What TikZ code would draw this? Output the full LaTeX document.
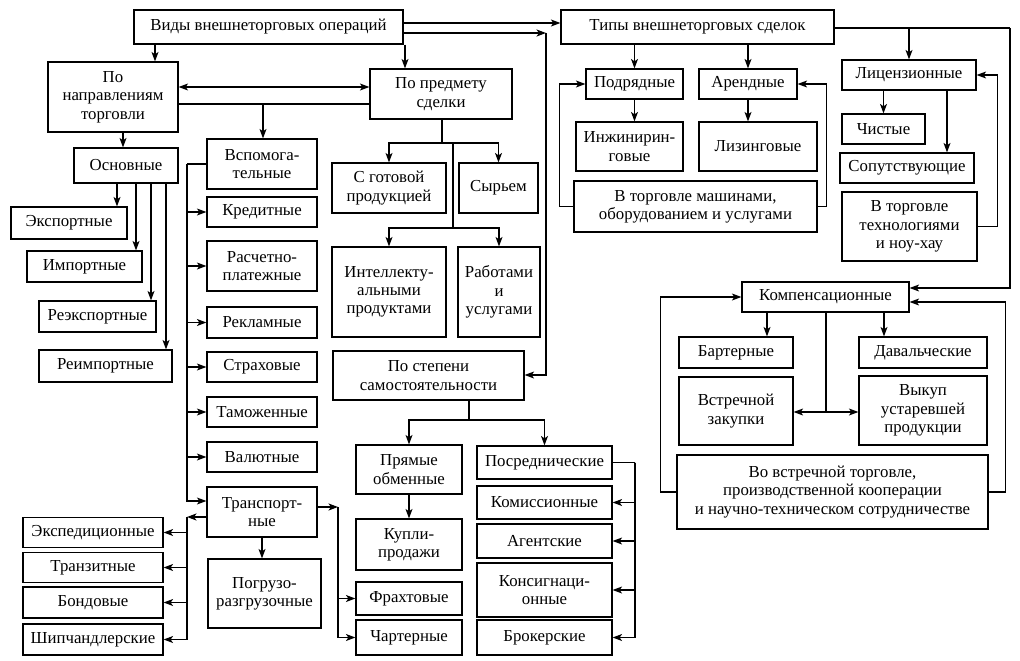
\documentclass[tikz,border=0pt]{standalone}
\usepackage{fontspec}
\setmainfont{Liberation Serif}
\usepackage{tikz}
\usetikzlibrary{arrows.meta}

\begin{document}
\begin{tikzpicture}[x=1pt, y=-1pt]
	\tikzset{box/.style = {draw, line width=1.2pt, align=center, inner sep=1pt,
			font=\fontsize{16.8}{18.3}\selectfont}}
	\tikzset{edge/.style = {->, line width=1.2pt, > = {Stealth[length=9.5pt, width=7pt, inset=2.5pt]}}}
	\tikzset{bus/.style = {line width=1.2pt}}
	\useasboundingbox (0,0) rectangle (1020,661);
	% boxes: top
	\node[box, minimum width=269, minimum height=34] (vid) at (268.5,27) {Виды внешнеторговых операций};
	\node[box, minimum width=273, minimum height=34] (tip) at (697.5,27) {Типы внешнеторговых сделок};
	% boxes: left part
	\node[box, minimum width=130, minimum height=70] (napr) at (113,97) {По\\направлениям\\торговли};
	\node[box, minimum width=142, minimum height=50] (pred) at (441,94) {По предмету\\сделки};
	\node[box, minimum width=104, minimum height=35] (osn) at (126,165.5) {Основные};
	\node[box, minimum width=110, minimum height=50] (vspom) at (262,164) {Вспомога-\\тельные};
	\node[box, minimum width=116, minimum height=32] (eksp) at (69,223) {Экспортные};
	\node[box, minimum width=115, minimum height=31] (imp) at (84.5,266.5) {Импортные};
	\node[box, minimum width=117, minimum height=31] (reeksp) at (97.5,316.5) {Реэкспортные};
	\node[box, minimum width=133, minimum height=32] (reimp) at (105.5,366) {Реимпортные};
	\node[box, minimum width=110, minimum height=30] (kred) at (262,212) {Кредитные};
	\node[box, minimum width=110, minimum height=50] (rasch) at (262,266) {Расчетно-\\платежные};
	\node[box, minimum width=110, minimum height=31] (rekl) at (262,322.5) {Рекламные};
	\node[box, minimum width=110, minimum height=30] (strah) at (262,367) {Страховые};
	\node[box, minimum width=110, minimum height=30] (tam) at (262,412) {Таможенные};
	\node[box, minimum width=110, minimum height=30] (val) at (262,457) {Валютные};
	\node[box, minimum width=110, minimum height=50] (trans) at (262,512) {Транспорт-\\ные};
	\node[box, minimum width=113, minimum height=69] (pogr) at (264.5,593.5) {Погрузо-\\разгрузочные};
	\node[box, minimum width=140, minimum height=30] (exped) at (93,532.5) {Экспедиционные};
	\node[box, minimum width=140, minimum height=30] (tranz) at (93,567.5) {Транзитные};
	\node[box, minimum width=140, minimum height=31] (bond) at (93,602.5) {Бондовые};
	\node[box, minimum width=140, minimum height=31] (ship) at (93,639.5) {Шипчандлерские};
	% boxes: middle part
	\node[box, minimum width=114, minimum height=50] (gotov) at (389,188) {С готовой\\продукцией};
	\node[box, minimum width=79, minimum height=50] (syr) at (498.5,188) {Сырьем};
	\node[box, minimum width=114, minimum height=90] (intel) at (389,292) {Интеллекту-\\альными\\продуктами};
	\node[box, minimum width=82, minimum height=90] (rabot) at (499,292) {Работами\\и\\услугами};
	\node[box, minimum width=191, minimum height=49] (stepen) at (428.5,375.5) {По степени\\самостоятельности};
	\node[box, minimum width=106, minimum height=49] (pryam) at (409,469.5) {Прямые\\обменные};
	\node[box, minimum width=106, minimum height=51] (kupli) at (409,544.5) {Купли-\\продажи};
	\node[box, minimum width=106, minimum height=33] (fraht) at (409,598.5) {Фрахтовые};
	\node[box, minimum width=106, minimum height=35] (charter) at (409,637.5) {Чартерные};
	\node[box, minimum width=135, minimum height=33] (posr) at (544.5,462.5) {Посреднические};
	\node[box, minimum width=135, minimum height=33] (komis) at (544.5,502.5) {Комиссионные};
	\node[box, minimum width=135, minimum height=34] (agent) at (544.5,541) {Агентские};
	\node[box, minimum width=135, minimum height=54] (konsig) at (544.5,590) {Консигнаци-\\онные};
	\node[box, minimum width=135, minimum height=35] (broker) at (544.5,637.5) {Брокерские};
	% boxes: right part
	\node[box, minimum width=97, minimum height=30] (podr) at (634.5,84) {Подрядные};
	\node[box, minimum width=98, minimum height=30] (arend) at (748,84) {Арендные};
	\node[box, minimum width=107, minimum height=49] (inzh) at (629.5,146.5) {Инжинирин-\\говые};
	\node[box, minimum width=118, minimum height=49] (lizing) at (758,146.5) {Лизинговые};
	\node[box, minimum width=243, minimum height=51] (mashin) at (695.5,206.5) {В торговле машинами,\\оборудованием и услугами};
	\node[box, minimum width=134, minimum height=30] (licenz) at (909,75) {Лицензионные};
	\node[box, minimum width=83, minimum height=30] (chist) at (883.5,129) {Чистые};
	\node[box, minimum width=134, minimum height=30] (soput) at (907,168) {Сопутствующие};
	\node[box, minimum width=135, minimum height=69] (tehnol) at (909.5,226.5) {В торговле\\технологиями\\и ноу-хау};
	\node[box, minimum width=167, minimum height=30] (komp) at (825.5,297) {Компенсационные};
	\node[box, minimum width=114, minimum height=31] (barter) at (736,352.5) {Бартерные};
	\node[box, minimum width=128, minimum height=31] (daval) at (923,352.5) {Давальческие};
	\node[box, minimum width=114, minimum height=68] (vstrech) at (736,411) {Встречной\\закупки};
	\node[box, minimum width=128, minimum height=69] (vykup) at (923,410.5) {Выкуп\\устаревшей\\продукции};
	\node[box, minimum width=311, minimum height=74] (vstrtorg) at (832.5,492) {Во встречной торговле,\\производственной кооперации\\и научно-техническом сотрудничестве};
	% bus points
	\coordinate (busR) at (546,33);
	\coordinate (brV) at (263,104);
	\coordinate (busV) at (187,164);
	\coordinate (busT) at (187,517);
	\coordinate (busF) at (338,507);
	\coordinate (brP1) at (442,143);
	\coordinate (brP2) at (453,228);
	\coordinate (brS) at (469,420);
	\coordinate (busP) at (635,462.5);
	\coordinate (busTip) at (1010,28);
	\coordinate (brK) at (826,412);
	% edges: top
	\draw[edge] (vid.south -| 155,0) -- (napr.north -| 155,0);
	\draw[edge] (vid.south -| 405,0) -- (pred.north -| 405,0);
	\draw[edge] (vid.east |- 0,23) -- (tip.west |- 0,23);
	\draw[edge] (vid.east |- busR) -- (busR);
	\draw[edge] (busR) |- (stepen.east |- 0,375);
	% edges: left part
	\draw[edge, <->] (napr.east |- 0,87) -- (pred.west |- 0,87);
	\draw[bus] (napr.east |- brV) -- (pred.west |- brV);
	\draw[edge] (brV) -- (vspom.north -| brV);
	\draw[edge] (napr.south -| 123,0) -- (osn.north -| 123,0);
	\foreach \x/\n in {117/eksp, 136/imp, 151/reeksp, 166/reimp}
		\draw[edge] (osn.south -| \x,0) -- (\n.north -| \x,0);
	\draw[bus] (vspom.west |- busV) -- (busV);
	\foreach \n in {kred, rasch, rekl, strah, tam, val}
		\draw[edge] (busV) |- (\n.west);
	\draw[edge] (busV) |- (trans.west |- 0,501);
	\draw[edge] (trans.west |- busT) -- (busT);
	\foreach \n in {exped, tranz, bond, ship}
		\draw[edge] (busT) |- (\n.east);
	\draw[edge] (trans.south) -- (pogr.north -| trans.south);
	\draw[edge] (trans.east |- busF) -- (busF);
	\draw[edge] (busF) |- (fraht.west);
	\draw[edge] (busF) |- (charter.west);
	% edges: middle part
	\draw[bus] (pred.south -| brP1) -- (brP1);
	\draw[edge] (brP1) -| (gotov.north);
	\draw[edge] (brP1) -| (syr.north);
	\draw[bus] (brP1 -| brP2) -- (brP2);
	\draw[edge] (brP2) -| (intel.north);
	\draw[edge] (brP2) -| (rabot.north);
	\draw[bus] (stepen.south -| brS) -- (brS);
	\draw[edge] (brS) -| (pryam.north);
	\draw[edge] (brS) -| (posr.north);
	\draw[edge] (pryam) -- (kupli);
	\draw[bus] (posr.east) -- (busP);
	\foreach \n in {komis, agent, konsig, broker}
		\draw[edge] (busP) |- (\n.east);
	% edges: right part
	\draw[edge] (tip.south -| podr) -- (podr);
	\draw[edge] (tip.south -| arend) -- (arend);
	\draw[edge] (podr.south) -- (inzh.north -| podr.south);
	\draw[edge] (arend.south) -- (lizing.north -| arend.south);
	\draw[edge] (mashin.west) -- ++(-14,0) |- (podr.west);
	\draw[edge] (mashin.east) -- ++(9,0) |- (arend.east);
	\draw[bus] (tip.east |- busTip) -- (busTip);
	\draw[edge] (busTip -| licenz) -- (licenz);
	\draw[edge] (busTip) |- (komp.east |- 0,288);
	\draw[edge] (licenz.south -| chist) -- (chist);
	\draw[edge] (licenz.south -| 947,0) -- (soput.north -| 947,0);
	\draw[edge] (tehnol.east) -- ++(20,0) |- (licenz.east);
	\draw[edge] (komp.south -| 767,0) -- (barter.north -| 767,0);
	\draw[edge] (komp.south -| 884,0) -- (daval.north -| 884,0);
	\draw[bus] (komp.south -| brK) -- (brK);
	\draw[edge] (brK) -- (vstrech.east |- brK);
	\draw[edge] (brK) -- (vykup.west |- brK);
	\draw[edge] (vstrtorg.west) -- ++(-16,0) |- (komp.west |- 0,297);
	\draw[edge] (vstrtorg.east) -- ++(17,0) |- (komp.east |- 0,302);
\end{tikzpicture}
\end{document}
